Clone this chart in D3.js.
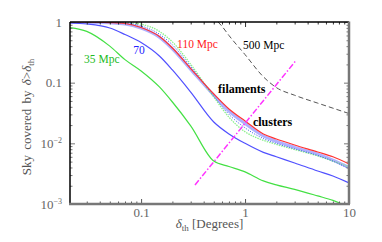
<!DOCTYPE html>
<html><head><meta charset="utf-8">
<script src="https://cdn.jsdelivr.net/npm/d3@7"></script>
<style>html,body{margin:0;padding:0;background:#fff;} svg{display:block;} text{font-family:"Liberation Serif","Times New Roman",serif;}</style>
</head><body>
<svg id="c" width="382" height="242"></svg>
<script>
// ---- data ----
const thresholds = [0.0207, 0.03, 0.05, 0.07, 0.1, 0.15, 0.2, 0.3, 0.5, 0.7, 1, 1.5, 2, 3, 5, 7, 10];
const sky35  = [0.81, 0.70, 0.40, 0.24, 0.156, 0.085, 0.048, 0.0194, 0.0051, 0.00416, 0.00338, 0.0024, 0.00207, 0.00174, 0.00136, 0.00115, 0.00088];
const sky70  = [0.963, 0.927, 0.796, 0.622, 0.459, 0.275, 0.162, 0.070, 0.0225, 0.0143, 0.0100, 0.0071, 0.0060, 0.00475, 0.0035, 0.0029, 0.00223];
const sky110 = [1.0, 1.0, 0.98, 0.945, 0.81, 0.577, 0.373, 0.171, 0.065, 0.0369, 0.0234, 0.0143, 0.0118, 0.0094, 0.0072, 0.0060, 0.00458];
const skyTot = [0.99, 0.99, 0.97, 0.93, 0.79, 0.56, 0.36, 0.165, 0.062, 0.034, 0.0212, 0.0132, 0.0108, 0.0086, 0.0066, 0.0053, 0.0040];
const skyFil = [1.0, 1.0, 1.0, 0.985, 0.92, 0.70, 0.47, 0.20, 0.058, 0.027, 0.0155, 0.0112, 0.0096, 0.0079, 0.0062, 0.0051, 0.0041];
const skyClu = [1.0, 1.0, 0.99, 0.96, 0.86, 0.63, 0.42, 0.185, 0.060, 0.030, 0.0180, 0.0120, 0.0100, 0.0081, 0.0063, 0.0051, 0.0038];
const thresholds500 = [0.55, 0.6, 0.7, 1, 1.5, 2, 3, 5, 7, 10];
const sky500 = [1.0, 0.85, 0.60, 0.29, 0.125, 0.083, 0.062, 0.046, 0.038, 0.031];
const slopeX = [0.33, 3.12];
const slopeY = [0.00206, 0.237];
const xMajor = [0.1, 1, 10];
const xMinor = [0.03,0.04,0.05,0.06,0.07,0.08,0.09,0.2,0.3,0.4,0.5,0.6,0.7,0.8,0.9,2,3,4,5,6,7,8,9];
const yMajor = [1, 0.1, 0.01, 0.001];
const yMinor = [0.002,0.003,0.004,0.005,0.006,0.007,0.008,0.009,0.02,0.03,0.04,0.05,0.06,0.07,0.08,0.09,0.2,0.3,0.4,0.5,0.6,0.7,0.8,0.9];
const labels = [
  {text:"110 Mpc", x:0.222, y:0.373, color:"#ff1a1a", bold:false},
  {text:"500 Mpc", x:0.957, y:0.359, color:"#000", bold:false},
  {text:"70", x:0.0838, y:0.297, color:"#2222ff", bold:false},
  {text:"35 Mpc", x:0.0283, y:0.211, color:"#22bb22", bold:false},
  {text:"filaments", x:0.55, y:0.0676, color:"#000", bold:true},
  {text:"clusters", x:1.19, y:0.0194, color:"#000", bold:true}
];

// ---- chart ----
const FONT = "Liberation Serif, Times New Roman, serif";
const svg = d3.select("#c");
const L=70, R=349, T=22, B=204;
const x = d3.scaleLog().domain([0.0207,10]).range([L,R]);
const y = d3.scaleLog().domain([0.001,1]).range([B,T]);

svg.append("defs").append("clipPath").attr("id","clip")
  .append("rect").attr("x",L).attr("y",T).attr("width",R-L).attr("height",B-T);

const g = svg.append("g").attr("clip-path","url(#clip)");
const line = d3.line().x(d=>x(d[0])).y(d=>y(d[1])).curve(d3.curveMonotoneX);
const zip = (xs,ys)=>xs.map((v,i)=>[v,ys[i]]);

g.append("path").attr("d",line(zip(thresholds,skyTot))).attr("fill","none").attr("stroke","#b0b0ff").attr("stroke-width",3);
g.append("path").attr("d",line(zip(thresholds,skyFil))).attr("fill","none").attr("stroke","#8cf08c").attr("stroke-width",1.3).attr("stroke-dasharray","1.5,1");
g.append("path").attr("d",line(zip(thresholds,skyClu))).attr("fill","none").attr("stroke","#3355ee").attr("stroke-width",1).attr("stroke-dasharray","1,1.5");
g.append("path").attr("d",line(zip(thresholds,sky110))).attr("fill","none").attr("stroke","#ff3333").attr("stroke-width",1.2);
g.append("path").attr("d",line(zip(thresholds,sky70))).attr("fill","none").attr("stroke","#5050ff").attr("stroke-width",1.2);
g.append("path").attr("d",line(zip(thresholds,sky35))).attr("fill","none").attr("stroke","#44e044").attr("stroke-width",1.2);
g.append("path").attr("d",line(zip(thresholds500,sky500))).attr("fill","none").attr("stroke","#555").attr("stroke-width",1).attr("stroke-dasharray","5,3");
g.append("path").attr("d",d3.line().x(d=>x(d[0])).y(d=>y(d[1]))(zip(slopeX,slopeY))).attr("fill","none").attr("stroke","#ff33ff").attr("stroke-width",1.5).attr("stroke-dasharray","6,2,1.5,2");

// labels
labels.forEach(l=>{
  svg.append("text").attr("x",x(l.x)).attr("y",y(l.y)).text(l.text)
    .attr("fill",l.color).attr("font-size", l.bold? "12px":"11.5px")
    .attr("font-family",FONT)
    .attr("font-weight", l.bold? "bold":"normal");
});

// axes
function styleAxis(sel,color){
  sel.attr("font-family",FONT);
  sel.select(".domain").remove();
  sel.selectAll(".tick line").attr("stroke",color);
}
const fmtY = d=> d===1?"1":d===0.1?"0.1":"";
// bottom
const gb = svg.append("g").attr("transform",`translate(0,${B})`);
gb.call(d3.axisBottom(x).tickValues(xMajor).tickSizeInner(-5).tickSizeOuter(0).tickPadding(4).tickFormat(d=>d===0.1?"0.1":d===1?"1":"10"));
styleAxis(gb,"#555");
gb.selectAll("text").attr("font-size","13px").attr("fill","#666");
const gbm = svg.append("g").attr("transform",`translate(0,${B})`);
gbm.call(d3.axisBottom(x).tickValues(xMinor).tickSizeInner(-2.5).tickSizeOuter(0).tickFormat(""));
styleAxis(gbm,"#555");
// top
const gt = svg.append("g").attr("transform",`translate(0,${T})`);
gt.call(d3.axisTop(x).tickValues(xMajor).tickSizeInner(-5).tickSizeOuter(0).tickFormat(""));
styleAxis(gt,"#333");
const gtm = svg.append("g").attr("transform",`translate(0,${T})`);
gtm.call(d3.axisTop(x).tickValues(xMinor).tickSizeInner(-2.5).tickSizeOuter(0).tickFormat(""));
styleAxis(gtm,"#333");
// left
const gl = svg.append("g").attr("transform",`translate(${L},0)`);
gl.call(d3.axisLeft(y).tickValues(yMajor).tickSizeInner(-5).tickSizeOuter(0).tickPadding(8).tickFormat(fmtY));
styleAxis(gl,"#777");
gl.selectAll("text").attr("font-size","13px").attr("fill","#666");
gl.selectAll(".tick").each(function(d){
  if(d<0.05){
    const t=d3.select(this).select("text");
    t.text("10");
    t.append("tspan").attr("font-size","8px").attr("dy","-5").text(d===0.01?"−2":"−3");
  }
});
const glm = svg.append("g").attr("transform",`translate(${L},0)`);
glm.call(d3.axisLeft(y).tickValues(yMinor).tickSizeInner(-2.5).tickSizeOuter(0).tickFormat(""));
styleAxis(glm,"#777");
// right
const gr = svg.append("g").attr("transform",`translate(${R},0)`);
gr.call(d3.axisRight(y).tickValues(yMajor).tickSizeInner(-5).tickSizeOuter(0).tickFormat(""));
styleAxis(gr,"#777");
const grm = svg.append("g").attr("transform",`translate(${R},0)`);
grm.call(d3.axisRight(y).tickValues(yMinor).tickSizeInner(-2.5).tickSizeOuter(0).tickFormat(""));
styleAxis(grm,"#777");

// frame
svg.append("line").attr("x1",L).attr("x2",L).attr("y1",T).attr("y2",B+1).attr("stroke","#000").attr("stroke-width",1.5);
svg.append("line").attr("x1",L).attr("x2",R).attr("y1",T).attr("y2",T).attr("stroke","#000").attr("stroke-width",1.5);
svg.append("line").attr("x1",L-1).attr("x2",R+1).attr("y1",B).attr("y2",B).attr("stroke","#777").attr("stroke-width",2.5);
svg.append("line").attr("x1",R).attr("x2",R).attr("y1",T-0.5).attr("y2",B).attr("stroke","#777").attr("stroke-width",2.5);

// axis titles
const xt = svg.append("text").attr("x",(L+R)/2+0).attr("y",228).attr("text-anchor","middle")
  .attr("font-family",FONT).attr("font-size","13px").attr("fill","#555");
xt.append("tspan").attr("font-style","italic").text("δ");
xt.append("tspan").attr("font-size","9px").attr("dy","3").text("th");
xt.append("tspan").attr("dy","-3").text(" [Degrees]");

const yt = svg.append("text").attr("transform",`translate(31,${(T+B)/2+4}) rotate(-90)`).attr("text-anchor","middle")
  .attr("font-family",FONT).attr("font-size","13px").attr("fill","#555").attr("word-spacing","2px");
yt.append("tspan").text("Sky covered by ");
yt.append("tspan").attr("font-style","italic").text("δ");
yt.append("tspan").text(">");
yt.append("tspan").attr("font-style","italic").text("δ");
yt.append("tspan").attr("font-size","9px").attr("dy","3").text("th");
</script>
</body></html>
